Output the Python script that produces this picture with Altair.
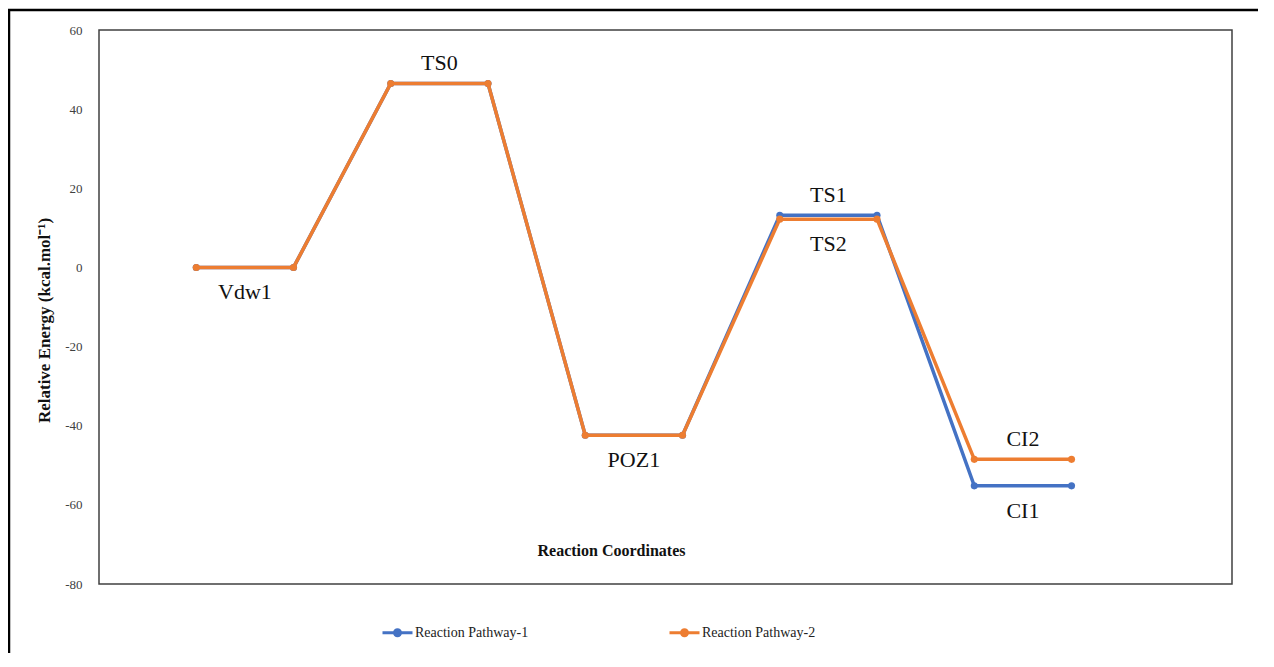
import altair as alt
import pandas as pd

# ---- data ----
x_index = [1, 2, 3, 4, 5, 6, 7, 8, 9, 10]
pathway1 = [0, 0, 46.5, 46.5, -42.4, -42.4, 13.2, 13.2, -55.2, -55.2]
pathway2 = [0, 0, 46.5, 46.5, -42.4, -42.4, 12.2, 12.2, -48.5, -48.5]
series_names = ["Reaction Pathway-1", "Reaction Pathway-2"]
series_colors = ["#4472C4", "#ED7D31"]

label_text = ["Vdw1", "TS0", "POZ1", "TS1", "TS2", "CI2", "CI1"]
label_x = [1.5, 3.5, 5.5, 7.5, 7.5, 9.5, 9.5]
label_y = [0, 46.5, -42.4, 13.2, 12.2, -48.5, -55.2]
label_side = ["below", "above", "below", "above", "below", "above", "below"]

y_ticks = [-80, -60, -40, -20, 0, 20, 40, 60]

FONT = "Liberation Serif"

df = pd.DataFrame({
    "x": x_index * 2,
    "energy": pathway1 + pathway2,
    "series": [series_names[0]] * len(x_index) + [series_names[1]] * len(x_index),
})
labels = pd.DataFrame({"text": label_text, "x": label_x, "energy": label_y, "side": label_side})

xs = alt.Scale(domain=[0, 11.65], nice=False, zero=False)
ys = alt.Scale(domain=[-80, 60], nice=False, zero=False)
cs = alt.Scale(domain=series_names, range=series_colors)

legend_path = "M-1,0H1M0.2,0A0.2,0.2,0,1,1,-0.2,0A0.2,0.2,0,1,1,0.2,0Z"
leg = alt.Legend(
    orient="none", legendX=282, legendY=586, direction="horizontal", columns=2,
    symbolType=legend_path, symbolSize=900, symbolStrokeWidth=3,
    labelFont=FONT, labelFontSize=14, labelColor="#222222", labelOffset=1,
    columnPadding=134, padding=0,
)

X = alt.X("x:Q", scale=xs, axis=alt.Axis(
    title="Reaction Coordinates", labels=False, ticks=False, domain=False, grid=False,
    titleFont=FONT, titleFontSize=16, titleFontWeight="bold", titleColor="#111111",
    titleX=512, titleY=-34, titleAlign="center", titleBaseline="middle"))
Y = alt.Y("energy:Q", scale=ys, axis=alt.Axis(
    title="Relative Energy (kcal.mol⁻¹)", values=y_ticks, ticks=False, domain=False, grid=False,
    labelExpr="toString(datum.value)",
    labelFont=FONT, labelFontSize=13, labelColor="#404040", labelPadding=17,
    titleFont=FONT, titleFontSize=17, titleFontWeight="bold", titleColor="#111111",
    titleAngle=270, titleX=-55, titleY=290, titleAlign="center", titleBaseline="middle"))

base = alt.Chart(df)
layers = []
for name in series_names:
    sub = base.transform_filter(alt.datum.series == name)
    layers.append(sub.mark_line(strokeWidth=3.5).encode(
        x=X, y=Y, stroke=alt.Stroke("series:N", scale=cs, legend=leg, title=None)))
    layers.append(sub.mark_point(filled=True, size=50, opacity=1).encode(
        x=X, y=Y, fill=alt.Fill("series:N", scale=cs, legend=leg, title=None)))

lab = alt.Chart(labels)
above = lab.transform_filter(alt.datum.side == "above").mark_text(
    font=FONT, fontSize=22, color="#111111", baseline="alphabetic", dy=-13).encode(
    x=alt.X("x:Q", scale=xs), y=alt.Y("energy:Q", scale=ys), text="text:N")
below = lab.transform_filter(alt.datum.side == "below").mark_text(
    font=FONT, fontSize=22, color="#111111", baseline="alphabetic", dy=32).encode(
    x=alt.X("x:Q", scale=xs), y=alt.Y("energy:Q", scale=ys), text="text:N")

frame_data = pd.DataFrame({"k": [0]})
frame_left = alt.Chart(frame_data).mark_rule(color="#000000", strokeWidth=2.5).encode(
    x=alt.value(-90), y=alt.value(-20), y2=alt.value(700))
frame_top = alt.Chart(frame_data).mark_rule(color="#000000", strokeWidth=2.5).encode(
    x=alt.value(-91), x2=alt.value(1300), y=alt.value(-20))

chart = alt.layer(*layers, above, below, frame_left, frame_top).properties(
    width=1133, height=554,
    background="white",
    autosize=alt.AutoSizeParams(type="none"),
    padding={"left": 91, "top": 22, "right": 26, "bottom": 69},
).configure_view(stroke="#404040", strokeWidth=1.5)

chart.save("out.html", embed_options={"renderer": "svg", "actions": False})
